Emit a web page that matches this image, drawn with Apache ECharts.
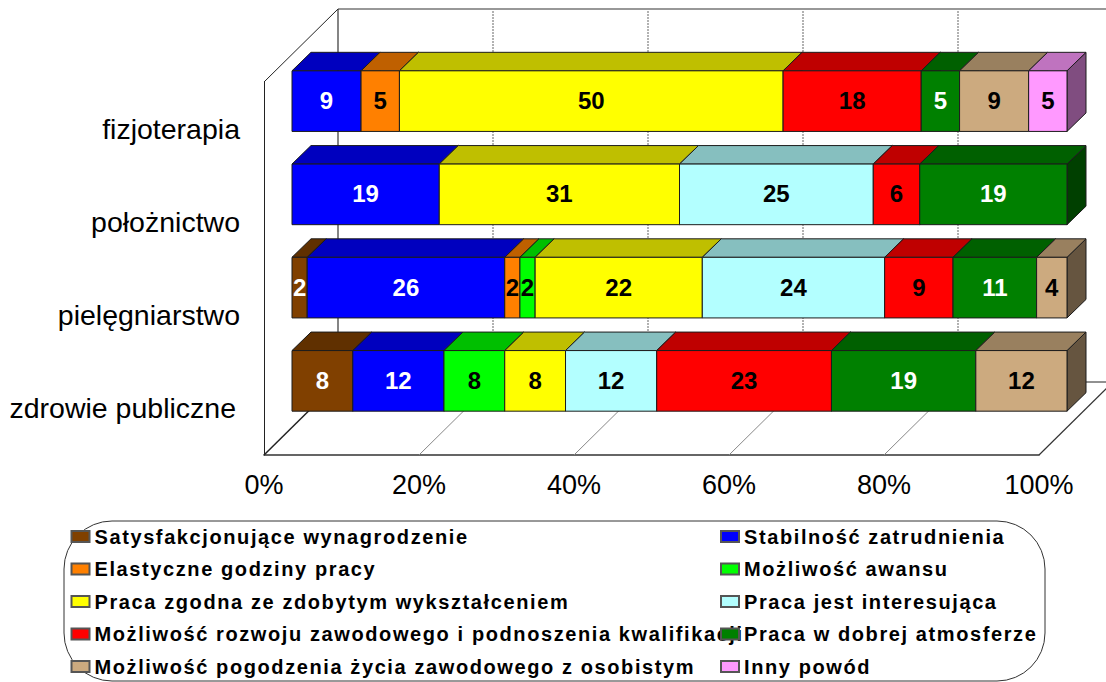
<!DOCTYPE html>
<html><head><meta charset="utf-8">
<style>html,body{margin:0;padding:0;background:#fff}#c{width:1106px;height:682px}
/* the reference's legend text is widely tracked */
svg text[style*="20px"]{letter-spacing:1.6px}
</style>
<script src="https://cdn.jsdelivr.net/npm/echarts@6/dist/echarts.min.js"></script>
</head><body><div id="c"></div>
<script>
const categories = ['fizjoterapia','położnictwo','pielęgniarstwo','zdrowie publiczne'];
const seriesNames = ['Satysfakcjonujące wynagrodzenie','Stabilność zatrudnienia','Elastyczne godziny pracy','Możliwość awansu','Praca zgodna ze zdobytym wykształceniem','Praca jest interesująca','Możliwość rozwoju zawodowego i podnoszenia kwalifikacji','Praca w dobrej atmosferze','Możliwość pogodzenia życia zawodowego z osobistym','Inny powód'];
const wynagrodzenie = [null,null,2,8];
const stabilnosc = [9,19,26,12];
const godziny = [5,null,2,null];
const awans = [null,null,2,8];
const zgodna = [50,31,22,8];
const interesujaca = [null,25,24,12];
const rozwoj = [18,6,9,23];
const atmosfera = [5,19,11,19];
const pogodzenie = [9,null,4,12];
const inny = [5,null,null,null];
const xTicks = [0,20,40,60,80,100];
const rows = [wynagrodzenie,stabilnosc,godziny,awans,zgodna,interesujaca,rozwoj,atmosfera,pogodzenie,inny];
const colors = [[128,64,0],[0,0,255],[255,128,0],[0,255,0],[255,255,0],[179,255,255],[255,0,0],[0,128,0],[204,170,127],[255,153,255]];
const labelColors = ['#fff','#fff','#000','#000','#000','#000','#000','#fff','#000','#000'];

const shade = (c,f)=>`rgb(${c.map(v=>Math.round(v*f)).join(',')})`;
const EDGE = '#1c1c1c';
const BAR_OFF = [28,-27.5], DEPTH = [19,-18.5], WALL = [74,-73];
const totals = categories.map((_,i)=>rows.reduce((s,r)=>s+(r[i]||0),0));
const cum = categories.map(()=>0);

const barSeries = rows.map((row,si)=>{
  const data = [];
  row.forEach((v,i)=>{
    if(v==null) return;
    const a = cum[i]; cum[i]+=v;
    data.push([a/totals[i]*100, cum[i]/totals[i]*100, i, v]);
  });
  const col = colors[si];
  return {
    name: seriesNames[si], type:'custom', coordinateSystem:'cartesian2d',
    z:3, silent:true, itemStyle:{color:shade(col,1),borderColor:'#555',borderWidth:1},
    encode:{x:[0,1],y:2}, data,
    renderItem(params,api){
      const p0 = api.coord([api.value(0),api.value(2)]);
      const p1 = api.coord([api.value(1),api.value(2)]);
      const h = api.size([0,1])[1]*0.65;
      const xa=p0[0]+BAR_OFF[0], xb=p1[0]+BAR_OFF[0], cy=p0[1]+BAR_OFF[1];
      const t=cy-h/2, b=cy+h/2, dx=DEPTH[0], dy=DEPTH[1];
      const poly=(pts,f)=>({type:'polygon',shape:{points:pts},style:{fill:f,stroke:EDGE,lineWidth:1}});
      return {type:'group',children:[
        poly([[xb,t],[xb+dx,t+dy],[xb+dx,b+dy],[xb,b]],shade(col,0.5)),
        poly([[xa,t],[xa+dx,t+dy],[xb+dx,t+dy],[xb,t]],shade(col,0.75)),
        poly([[xa,t],[xb,t],[xb,b],[xa,b]],shade(col,1)),
        {type:'text',z2:100,style:{text:String(api.value(3)),x:(xa+xb)/2,y:(t+b)/2-0.5,align:'center',verticalAlign:'middle',
          fill:labelColors[si],font:'bold 24px "Liberation Sans"'}}
      ]};
    }
  };
});

const wallSeries = {
  type:'custom', coordinateSystem:'cartesian2d', z:1, silent:true, encode:{x:0,y:1},
  data: xTicks.map(t=>[t,categories.length-1]),
  renderItem(params,api){
    const v=api.value(0);
    const base=api.coord([v,categories.length-1]);
    const band=api.size([0,1])[1];
    const bottom=base[1]+band/2, top=bottom-band*categories.length;
    const x=base[0];
    const line=(a,b,st)=>({type:'line',shape:{x1:a[0],y1:a[1],x2:b[0],y2:b[1]},style:st});
    const back=[x+WALL[0],bottom+WALL[1]], backTop=[x+WALL[0],top+WALL[1]];
    const kids=[];
    if(v===0){
      kids.push(line([x,top],backTop,{stroke:'#222',lineWidth:1}));
      kids.push(line([x,bottom],back,{stroke:'#222',lineWidth:1.5}));
      kids.push(line(back,backTop,{stroke:'#333',lineWidth:1.2}));
      kids.push(line(backTop,[backTop[0]+775,backTop[1]],{stroke:'#333',lineWidth:1.2}));
      kids.push(line(back,[back[0]+775,back[1]],{stroke:'#222',lineWidth:1}));
    } else if(v===100){
      kids.push(line([x,bottom],back,{stroke:'#333',lineWidth:1.2}));
    } else {
      kids.push(line([x,bottom],back,{stroke:'#888',lineWidth:1}));
      kids.push(line(back,backTop,{stroke:'#999',lineWidth:1.5,lineDash:[2,1]}));
    }
    return {type:'group',children:kids};
  }
};

const legendBase = {orient:'vertical',icon:'rect',itemWidth:18,itemHeight:11,itemGap:12.5,selectedMode:false,height:175,
  textStyle:{fontFamily:'Liberation Sans',fontWeight:'bold',fontSize:20,color:'#000',padding:[0,0,0,0],lineHeight:20}};

const chart = echarts.init(document.getElementById('c'),null,{renderer:'svg'});
chart.setOption({
  animation:false, backgroundColor:'#fff',
  grid:{left:264,top:82,width:775,height:373,outerBoundsMode:'none'},
  xAxis:{type:'value',min:0,max:100,interval:20,splitLine:{show:false},axisTick:{show:false},
    axisLine:{show:true,lineStyle:{color:'#333',width:1.5}},
    axisLabel:{formatter:'{value}%',fontFamily:'Liberation Sans',fontSize:27,color:'#000',margin:16,showMaxLabel:true,showMinLabel:true}},
  yAxis:{type:'category',inverse:true,data:categories,axisTick:{show:false},
    axisLine:{show:true,lineStyle:{color:'#222',width:1}},
    axisLabel:{fontFamily:'Liberation Sans',fontSize:28.5,color:'#000',margin:24,padding:[0,0,0,0],
      formatter:v=>v==='zdrowie publiczne'?`{s|${v}}`:v,
      rich:{s:{fontFamily:'Liberation Sans',fontSize:28.5,color:'#000',padding:[0,4,0,0]}}}},
  legend:[
    Object.assign({},legendBase,{left:65.5,top:521.5,z:6,data:[seriesNames[0],seriesNames[2],seriesNames[4],seriesNames[6],seriesNames[8]]}),
    Object.assign({},legendBase,{left:715,top:521.5,z:7,data:[seriesNames[1],seriesNames[3],seriesNames[5],seriesNames[7],seriesNames[9]]})
  ],
  graphic:[{type:'rect',z:0,silent:true,shape:{x:64,y:521,width:981,height:160,r:48},style:{fill:'#fff',stroke:'#333',lineWidth:1}}],
  series:[wallSeries].concat(barSeries)
});
</script></body></html>
